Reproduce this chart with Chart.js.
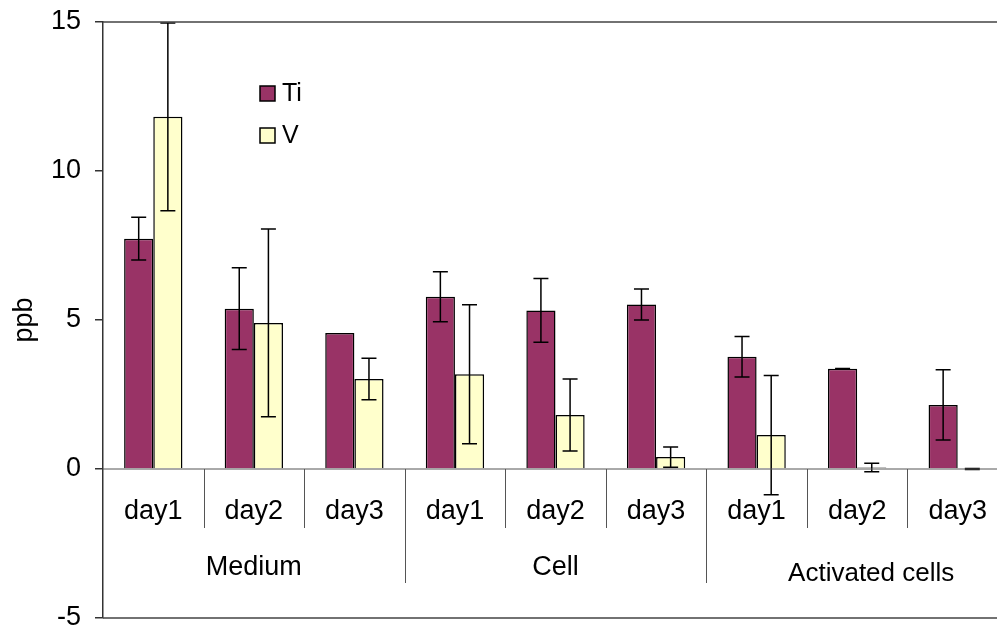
<!DOCTYPE html>
<html>
<head>
<meta charset="utf-8">
<script src="https://cdn.jsdelivr.net/npm/chart.js@4"></script>
<style>
  html, body { margin: 0; padding: 0; background: #fff; overflow: hidden; }
  #wrap { width: 1010px; height: 630px; }
</style>
</head>
<body>
<div id="wrap"><canvas id="chart" width="1010" height="630"></canvas></div>
<script>
const categories = ['day1', 'day2', 'day3', 'day1', 'day2', 'day3', 'day1', 'day2', 'day3']
const groups = ['Medium', 'Cell', 'Activated cells']
const groupSize = 3
const tiValues = [7.73, 5.38, 4.56, 5.78, 5.32, 5.52, 3.77, 3.36, 2.15]
const tiErrors = [0.72, 1.37, null, 0.84, 1.07, 0.52, 0.68, 0.01, 1.18]
const vValues = [11.82, 4.90, 3.02, 3.18, 1.81, 0.40, 1.14, 0.05, 0.0]
const vErrors = [3.15, 3.15, 0.70, 2.33, 1.21, 0.34, 2.0, 0.14, 0.02]
const yTicks = [-5, 0, 5, 10, 15]

const FONT = '"Liberation Sans", Arial, sans-serif'
Chart.defaults.font.family = FONT
Chart.defaults.color = '#000'

// error bars drawn from the dataset's own error array
const errorBars = {
  id: 'errorBars',
  afterDatasetsDraw(chart) {
    const { ctx } = chart
    const y = chart.scales.y
    chart.data.datasets.forEach((ds, di) => {
      const meta = chart.getDatasetMeta(di)
      ds.errors.forEach((err, i) => {
        if (err === null || err === undefined) return
        const x = meta.data[i].x
        const v = ds.data[i]
        const top = y.getPixelForValue(Math.min(v + err, y.max))
        const bot = y.getPixelForValue(v - err)
        ctx.save()
        ctx.strokeStyle = '#000'
        ctx.lineWidth = 1.5
        ctx.beginPath()
        ctx.moveTo(x, top); ctx.lineTo(x, bot)
        ctx.moveTo(x - 7.5, top); ctx.lineTo(x + 7.5, top)
        ctx.moveTo(x - 7.5, bot); ctx.lineTo(x + 7.5, bot)
        ctx.stroke()
        ctx.restore()
      })
    })
  }
}

// frame, zero axis and the two-level category labels (Excel style)
const categoryAxis = {
  id: 'categoryAxis',
  afterDraw(chart) {
    const { ctx, chartArea } = chart
    const x = chart.scales.x
    const y = chart.scales.y
    const y0 = y.getPixelForValue(0)
    ctx.save()
    // plot frame top and bottom
    ctx.strokeStyle = '#444'
    ctx.lineWidth = 1.5
    ctx.beginPath()
    ctx.moveTo(chartArea.left, chartArea.top); ctx.lineTo(chartArea.right, chartArea.top)
    ctx.moveTo(chartArea.left, chartArea.bottom); ctx.lineTo(chartArea.right, chartArea.bottom)
    ctx.stroke()
    // zero line
    ctx.strokeStyle = '#555'
    ctx.lineWidth = 1
    ctx.beginPath()
    ctx.moveTo(chartArea.left, y0); ctx.lineTo(chartArea.right, y0)
    ctx.stroke()
    // separators
    const step = x.getPixelForValue(1) - x.getPixelForValue(0)
    ctx.beginPath()
    for (let i = 1; i < categories.length; i++) {
      const bx = Math.round(x.getPixelForValue(i) - step / 2) + 0.5
      const isGroup = i % groupSize === 0
      ctx.moveTo(bx, y0)
      ctx.lineTo(bx, y0 + (isGroup ? 114 : 59))
    }
    ctx.stroke()
    // day labels
    ctx.fillStyle = '#000'
    ctx.textAlign = 'center'
    ctx.textBaseline = 'alphabetic'
    ctx.font = '27px ' + FONT
    categories.forEach((c, i) => {
      ctx.fillText(c, x.getPixelForValue(i), y0 + 50)
    })
    // group labels
    groups.forEach((g, gi) => {
      const mid = x.getPixelForValue(gi * groupSize + (groupSize - 1) / 2)
      if (gi === groups.length - 1) {
        ctx.font = '26px ' + FONT
        ctx.fillText(g, mid + 14, y0 + 112)
      } else {
        ctx.font = '27px ' + FONT
        ctx.fillText(g, mid, y0 + 106)
      }
    })
    // legend inside plot
    ctx.font = '25px ' + FONT
    ctx.textAlign = 'left'
    chart.data.datasets.forEach((ds, di) => {
      const lx = chartArea.left + 157
      const ly = chartArea.top + 64 + di * 42
      ctx.fillStyle = ds.backgroundColor
      ctx.fillRect(lx, ly, 15, 15)
      ctx.strokeStyle = '#000'
      ctx.lineWidth = 1.5
      ctx.strokeRect(lx, ly, 15, 15)
      ctx.fillStyle = '#000'
      ctx.fillText(ds.label, lx + 22, ly + 15)
    })
    ctx.restore()
  }
}

new Chart(document.getElementById('chart'), {
  type: 'bar',
  data: {
    labels: categories,
    datasets: [
      { label: 'Ti', data: tiValues, errors: tiErrors, backgroundColor: '#993366', borderColor: '#000', borderWidth: 1.5 },
      { label: 'V', data: vValues, errors: vErrors, backgroundColor: '#FFFFCC', borderColor: '#000', borderWidth: 1.5 }
    ]
  },
  options: {
    responsive: false,
    devicePixelRatio: 1,
    animation: false,
    layout: { padding: { top: 22, bottom: 12, left: 0, right: 2 } },
    datasets: { bar: { categoryPercentage: 0.58, barPercentage: 1 } },
    plugins: { legend: { display: false }, tooltip: { enabled: false }, title: { display: false } },
    scales: {
      x: { display: false },
      y: {
        min: -5,
        max: 15,
        afterBuildTicks: axis => { axis.ticks = yTicks.map(v => ({ value: v })) },
        afterFit: axis => {
          axis.width = 103
          axis.paddingTop = 0
          axis.paddingBottom = 0
        },
        ticks: { padding: 14, font: { size: 27 }, color: '#000' },
        grid: { drawOnChartArea: false, drawTicks: true, tickLength: 8, color: '#333', lineWidth: 1.5 },
        border: { display: true, color: '#333', width: 1.5 },
        title: { display: true, text: 'ppb', font: { size: 27 }, color: '#000', padding: { top: 8, bottom: 0 } }
      }
    }
  },
  plugins: [errorBars, categoryAxis]
})
</script>
</body>
</html>
